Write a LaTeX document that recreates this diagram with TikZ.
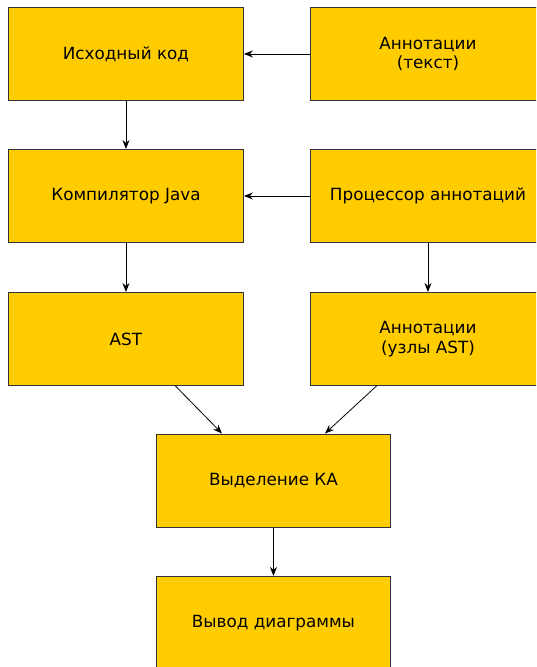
\documentclass[tikz,border=0pt]{standalone}
\usepackage{fontspec}
\setmainfont{DejaVu Sans}
\usetikzlibrary{arrows.meta}
\definecolor{boxfill}{HTML}{FFCC00}
\definecolor{boxline}{HTML}{333333}
\tikzset{
  blk/.style={draw=boxline, fill=boxfill, line width=0.9pt, minimum width=235pt, minimum height=93pt, inner sep=0pt, align=center, font=\fontsize{16.8}{19.5}\selectfont, anchor=north west},
  conn/.style={draw=black, line width=0.8pt, -{Stealth[length=9pt,width=7pt]}}
}
\begin{document}
\begin{tikzpicture}[x=1pt,y=-1pt]
\useasboundingbox (0,0) rectangle (536,667);
\clip (0,0) rectangle (536,667);
\node[blk] (src) at (8,7) {Исходный код};
\node[blk] (annt) at (310,7) {Аннотации\\(текст)};
\node[blk] (comp) at (8,149) {Компилятор Java};
\node[blk] (proc) at (310,149) {Процессор аннотаций};
\node[blk] (ast) at (8,292) {AST};
\node[blk] (anna) at (310,292) {Аннотации\\(узлы AST)};
\node[blk, minimum width=234pt] (fsm) at (156,434) {Выделение КА};
\node[blk, minimum width=234pt] (out) at (156,576) {Вывод диаграммы};
\draw[conn] (annt.west) -- (src.east);
\draw[conn] (proc.west) -- (comp.east);
\draw[conn] (src.south) -- (comp.north);
\draw[conn] (comp.south) -- (ast.north);
\draw[conn] (proc.south) -- (anna.north);
\coordinate (e1) at (175,385.5);
\coordinate (g1) at (222,433.5);
\coordinate (f1) at (377,385.5);
\coordinate (g2) at (325,433.5);
\draw[conn] (e1) -- (g1);
\draw[conn] (f1) -- (g2);
\draw[conn] (fsm.south) -- (out.north);
\end{tikzpicture}
\end{document}
